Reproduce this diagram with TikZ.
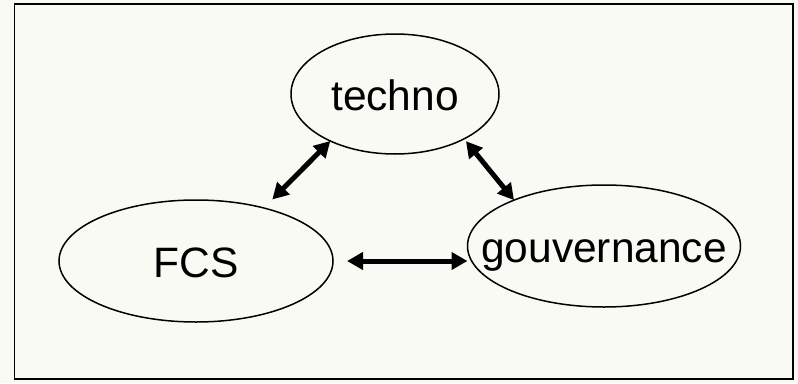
\documentclass[tikz,border=0pt]{standalone}
\usepackage{fontspec}
\setmainfont{Liberation Sans}
\usetikzlibrary{shapes.geometric,arrows.meta}
\definecolor{fond}{RGB}{250,250,244}
\tikzset{
    bulle/.style={ellipse, draw, line width=1.5pt, minimum width=#1, minimum height=122pt,
        inner ysep=0pt, inner xsep=-30pt, outer sep=0pt, text height=33pt, text depth=0pt,
        font=\fontsize{42.5}{50}\selectfont},
    lien/.style={{Triangle[length=16pt,width=17pt]}-{Triangle[length=16pt,width=17pt]}, line width=5pt}
}
\begin{document}
\begin{tikzpicture}[x=1pt,y=-1pt]
    \fill[fond] (0,0) rectangle (798,383);
    \draw[line width=1.5pt] (14.5,4) rectangle (793,379);
    \node[bulle=208pt, minimum height=120pt] (techno) at (395,94) {techno};
    \node[bulle=274pt] (fcs) at (196,261) {FCS};
    \node[bulle=273pt] (gouv) at (604,246) {gouvernance};
    \draw[lien, shorten >=12pt] (techno.216.7) -- (fcs.38.75);
    \draw[lien, shorten <=3pt] (techno.327.8) -- (gouv.153.2);
    \draw[lien, shorten <=14pt] (fcs.east) -- (fcs.east -| gouv.west);
\end{tikzpicture}
\end{document}
